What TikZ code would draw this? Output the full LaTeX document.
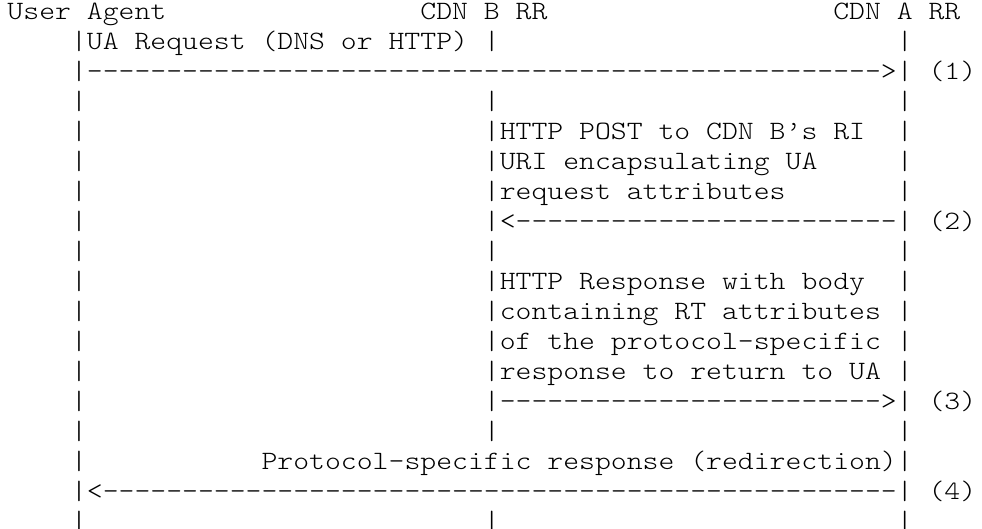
\documentclass[tikz,border=0pt]{standalone}
\usepackage{graphicx}
\newcommand\asciifont{\fontsize{26.47}{30}\fontfamily{lmtt}\fontseries{l}\selectfont}
\tikzset{ascii/.style={anchor=base west, inner sep=0pt, outer sep=0pt, font=\asciifont}}
% name, column, row, text
\newcommand\asc[4]{\node[ascii] (#1) at ({7.5+#2*15.88},{-19.5-(#3-1)*30}) {\scalebox{1.1427}[1]{#4}};}
\newcommand\dashrow[4]{\foreach \c in {#2,...,#3} {\asc{#1-\c}{\c}{#4}{-}}}
\begin{document}
\begin{tikzpicture}[x=1pt,y=1pt]
\fill[white] (0,0) rectangle (982,-529);
\useasboundingbox (0,0) rectangle (982,-529);
% row 1: headers
\asc{ua}{0}{1}{User Agent}
\asc{cdnb}{26}{1}{CDN B RR}
\asc{cdna}{52}{1}{CDN A RR}
% row 2
\asc{r2a}{4}{2}{|UA Request (DNS or HTTP) |}
\asc{r2c}{56}{2}{|}
% row 3: (1)
\asc{r3a}{4}{3}{|}
\dashrow{d3}{5}{54}{3}
\asc{r3c}{55}{3}{>|}
\asc{s1}{58}{3}{(1)}
% plain rows
\foreach \r in {4,9,15,18} {
  \asc{p\r a}{4}{\r}{|}
  \asc{p\r b}{30}{\r}{|}
  \asc{p\r c}{56}{\r}{|}
}
% text rows between CDN B RR and CDN A RR
\foreach \r/\t in {5/{HTTP POST to CDN B’s RI},6/{URI encapsulating UA},7/{request attributes},10/{HTTP Response with body},11/{containing RT attributes},12/{of the protocol-specific},13/{response to return to UA}} {
  \asc{t\r a}{4}{\r}{|}
  \asc{t\r b}{30}{\r}{|\t}
  \asc{t\r c}{56}{\r}{|}
}
% row 8: (2)
\asc{r8a}{4}{8}{|}
\asc{r8b}{30}{8}{|<}
\dashrow{d8}{32}{55}{8}
\asc{r8c}{56}{8}{|}
\asc{s2}{58}{8}{(2)}
% row 14: (3)
\asc{r14a}{4}{14}{|}
\asc{r14b}{30}{14}{|}
\dashrow{d14}{31}{54}{14}
\asc{r14c}{55}{14}{>|}
\asc{s3}{58}{14}{(3)}
% row 16
\asc{r16a}{4}{16}{|}
\asc{r16b}{16}{16}{Protocol-specific response (redirection)|}
% row 17: (4)
\asc{r17a}{4}{17}{|<}
\dashrow{d17}{6}{55}{17}
\asc{r17c}{56}{17}{|}
\asc{s4}{58}{17}{(4)}
\end{tikzpicture}
\end{document}
